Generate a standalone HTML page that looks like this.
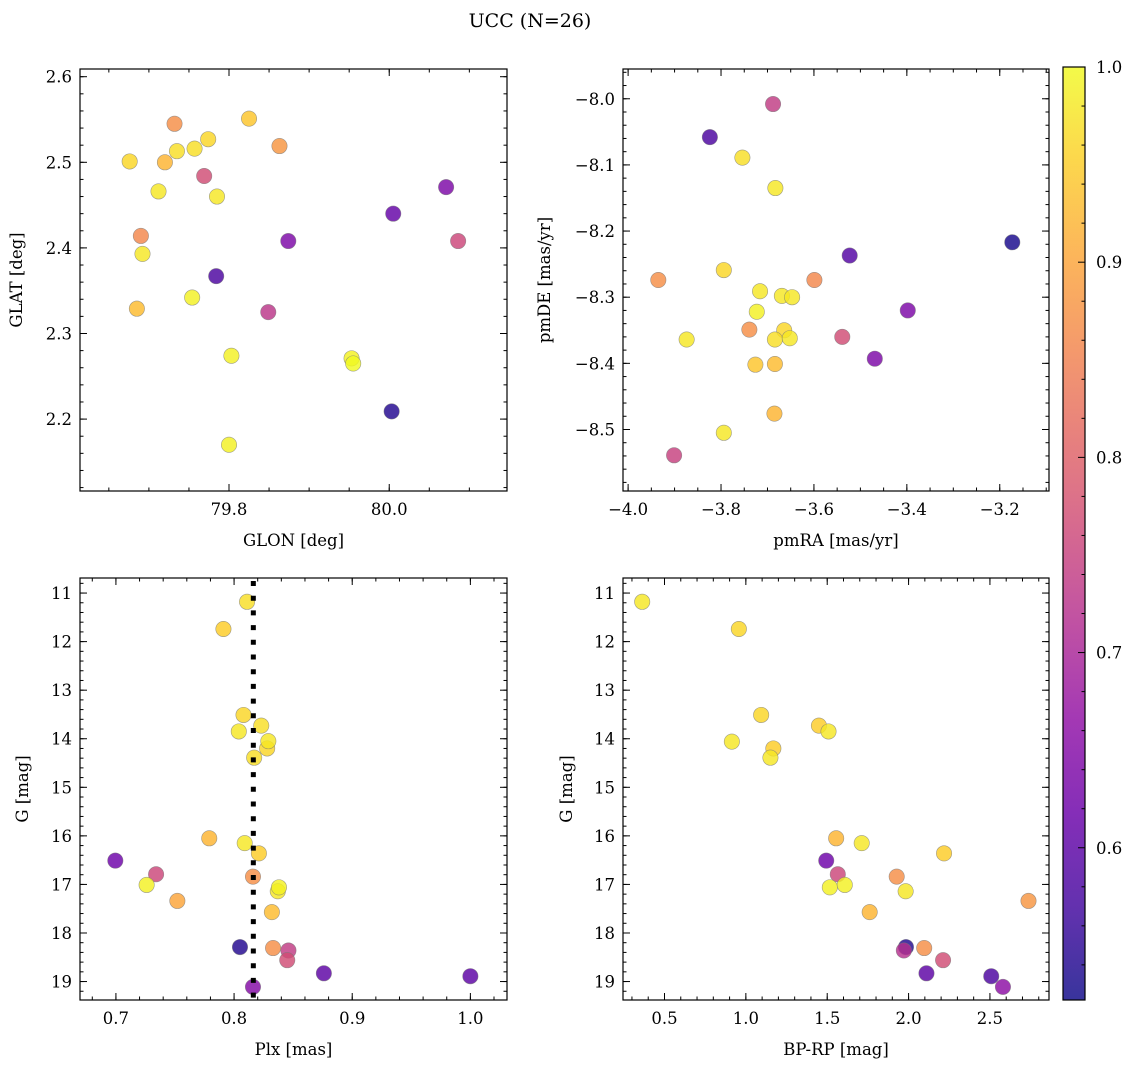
<!DOCTYPE html>
<html><head><meta charset="utf-8"><style>
html,body{margin:0;padding:0;background:#fff}
svg text{font-family:"DejaVu Serif","Liberation Serif",serif;fill:#000}
</style></head><body>
<svg id="fig" width="1136" height="1067" viewBox="0 0 1136 1067" xmlns="http://www.w3.org/2000/svg">
<defs>
<linearGradient id="cbgrad" x1="0" y1="1" x2="0" y2="0"></linearGradient>
</defs>
<text x="530" y="27" font-size="19" text-anchor="middle">UCC (N=26)</text>
</svg>
<script>
// Panel 1: GLON vs GLAT
const glon = [79.676,79.732,79.720,79.735,79.757,79.774,79.825,79.863,79.769,79.712,79.785,79.690,79.692,79.685,79.754,79.784,79.874,80.005,80.071,80.086,79.849,79.803,79.953,79.955,80.003,79.800];
const glat = [2.501,2.545,2.500,2.513,2.516,2.527,2.551,2.519,2.484,2.466,2.460,2.414,2.393,2.329,2.342,2.367,2.408,2.440,2.471,2.408,2.325,2.274,2.271,2.265,2.209,2.170];
const prob1 = [0.96,0.87,0.92,0.97,0.97,0.96,0.94,0.88,0.77,0.98,0.98,0.86,0.98,0.93,0.99,0.58,0.64,0.61,0.64,0.76,0.73,0.99,0.99,1.0,0.54,0.99];
// Panel 2: pmRA vs pmDE
const pmra = [-3.688,-3.824,-3.754,-3.683,-3.173,-3.523,-3.794,-3.935,-3.599,-3.716,-3.669,-3.647,-3.723,-3.398,-3.739,-3.664,-3.684,-3.652,-3.874,-3.539,-3.469,-3.726,-3.684,-3.685,-3.794,-3.901];
const pmde = [-8.008,-8.058,-8.089,-8.135,-8.217,-8.237,-8.259,-8.274,-8.274,-8.291,-8.298,-8.300,-8.322,-8.320,-8.349,-8.350,-8.364,-8.362,-8.364,-8.360,-8.393,-8.402,-8.401,-8.476,-8.505,-8.539];
const prob2 = [0.74,0.58,0.97,0.98,0.53,0.59,0.96,0.87,0.86,0.98,0.98,0.98,0.99,0.64,0.87,0.96,0.97,0.98,0.98,0.77,0.64,0.94,0.93,0.92,0.98,0.75];
// Panel 3: Plx vs G
const plx = [0.811,0.791,0.808,0.823,0.804,0.829,0.828,0.817,0.779,0.809,0.821,0.6995,0.734,0.816,0.726,0.838,0.837,0.752,0.832,0.805,0.833,0.846,0.845,0.876,1.000,0.816];
const gmag3 = [11.18,11.74,13.51,13.73,13.85,14.05,14.20,14.39,16.05,16.15,16.36,16.51,16.79,16.84,17.01,17.06,17.14,17.34,17.57,18.29,18.31,18.36,18.56,18.83,18.89,19.11];
const prob3 = [0.97,0.95,0.96,0.97,0.98,0.98,0.96,0.97,0.92,0.98,0.95,0.62,0.76,0.87,0.99,0.99,0.98,0.90,0.93,0.54,0.87,0.74,0.77,0.60,0.60,0.65];
const plxLine = [0.8163];
// Panel 4: BP-RP vs G
const bprp = [0.363,0.957,1.094,1.449,1.508,0.914,1.169,1.151,1.555,1.712,2.218,1.494,1.565,1.927,1.516,1.608,1.982,2.737,1.761,1.984,2.096,1.971,2.212,2.110,2.508,2.580];
const gmag4 = [11.18,11.74,13.51,13.73,13.85,14.06,14.20,14.39,16.05,16.15,16.36,16.51,16.79,16.84,17.06,17.01,17.14,17.34,17.57,18.29,18.31,18.36,18.56,18.83,18.89,19.11];
const prob4 = [0.98,0.96,0.96,0.95,0.98,0.98,0.95,0.98,0.92,0.98,0.95,0.62,0.76,0.87,0.99,0.99,0.98,0.88,0.92,0.54,0.87,0.72,0.77,0.60,0.58,0.66];
// Tick labels
const ticks1x = [79.8,80.0], ticks1y = [2.2,2.3,2.4,2.5,2.6];
const ticks2x = [-4.0,-3.8,-3.6,-3.4,-3.2], ticks2y = [-8.5,-8.4,-8.3,-8.2,-8.1,-8.0];
const ticks3x = [0.7,0.8,0.9,1.0], ticksGy = [11,12,13,14,15,16,17,18,19];
const ticks4x = [0.5,1.0,1.5,2.0,2.5];
const ticksCb = [0.6,0.7,0.8,0.9,1.0];

const NS="http://www.w3.org/2000/svg";
const svg=document.getElementById('fig');
const VMIN=0.522, VMAX=1.0;
const plasma=[[13,8,135],[65,4,157],[106,0,168],[143,13,164],[177,42,144],[204,71,120],[225,100,98],[242,132,75],[252,166,54],[252,206,37],[240,249,33]];
function cmap(v){let t=(v-VMIN)/(VMAX-VMIN);t=Math.max(0,Math.min(1,t));const f=t*10,i=Math.min(9,Math.floor(f)),r=f-i;const a=plasma[i],b=plasma[i+1];
return 'rgb('+[0,1,2].map(k=>Math.round(a[k]+(b[k]-a[k])*r)).join(',')+')';}
function mk(tag,attrs,parent){const e=document.createElementNS(NS,tag);for(const k in attrs)e.setAttribute(k,attrs[k]);(parent||svg).appendChild(e);return e;}
function fmt(v,d){return (v<0?'\u2212':'')+Math.abs(v).toFixed(d);}
const FS=16.5;

function panel(o){
  const g=mk('g',{});
  
  
  const [L,T,R,B]=o.box;
  const sx=v=>L+(v-o.xr[0])/(o.xr[1]-o.xr[0])*(R-L);
  const sy=o.yinv? v=>T+(v-o.yr[0])/(o.yr[1]-o.yr[0])*(B-T) : v=>B-(v-o.yr[0])/(o.yr[1]-o.yr[0])*(B-T);
  const tg=mk('g',{stroke:'#000','stroke-width':1},g);
  
  
  function xt(step,len){const s=Math.ceil(o.xr[0]/step-1e-6);for(let k=s;k*step<=o.xr[1]+1e-9;k++){const x=sx(k*step);mk('line',{x1:x,x2:x,y1:B,y2:B-len},tg);mk('line',{x1:x,x2:x,y1:T,y2:T+len},tg);}}
  function yt(step,len){const lo=Math.min(...o.yr),hi=Math.max(...o.yr);const s=Math.ceil(lo/step-1e-6);for(let k=s;k*step<=hi+1e-9;k++){const y=sy(k*step);mk('line',{x1:L,x2:L+len,y1:y,y2:y},tg);mk('line',{x1:R,x2:R-len,y1:y,y2:y},tg);}}
  xt(o.xminor,3.5);xt(o.xmajor,7);yt(o.yminor,3.5);yt(o.ymajor,7);
  o.xticks.forEach(v=>{const t=mk('text',{x:sx(v),y:B+24,'font-size':FS,'text-anchor':'middle'},g);t.textContent=fmt(v,o.xd);
    
    });
  o.yticks.forEach(v=>{const t=mk('text',{x:L-8,y:sy(v)+6,'font-size':FS,'text-anchor':'end'},g);t.textContent=fmt(v,o.yd);
    
    });
  const xl=mk('text',{x:(L+R)/2,y:B+55,'font-size':FS,'text-anchor':'middle'},g);xl.textContent=o.xlabel;
  
  
  const yx=o.ylx, yy=(T+B)/2;
  const yl=mk('text',{x:yx,y:yy,'font-size':FS,'text-anchor':'middle',transform:'rotate(-90 '+yx+' '+yy+')'},g);yl.textContent=o.ylabel;
  
  
  const cid='clip-'+o.name;const cp=mk('clipPath',{id:cid},g);mk('rect',{x:L,y:T,width:R-L,height:B-T},cp);
  const pg=mk('g',{'clip-path':'url(#'+cid+')'},g);
  const idx=o.x.map((_,i)=>i).sort((a,b)=>o.p[a]-o.p[b]);
  idx.forEach(i=>{const c=mk('circle',{cx:sx(o.x[i]),cy:sy(o.y[i]),r:7.7,fill:cmap(o.p[i]),'fill-opacity':0.82,stroke:'#777','stroke-opacity':0.7,'stroke-width':0.6},pg);
    
    });
  if(o.vline){o.vline.forEach(v=>{const ln=mk('line',{x1:sx(v),x2:sx(v),y1:T,y2:B,stroke:'#000','stroke-width':5,'stroke-dasharray':'5 9.7','stroke-dashoffset':-3},pg);
    
    });}
  const fr=mk('rect',{x:L,y:T,width:R-L,height:B-T,fill:'none',stroke:'#000','stroke-width':1.2},g);
  
  
}
panel({name:'glon-glat-panel',box:[80,69,507,491],xr:[79.614,80.147],yr:[2.116,2.609],x:glon,y:glat,p:prob1,xticks:ticks1x,yticks:ticks1y,xd:1,yd:1,xmajor:0.2,xminor:0.05,ymajor:0.1,yminor:0.02,xlabel:'GLON [deg]',ylabel:'GLAT [deg]',ylx:22});
panel({name:'pm-panel',box:[623,69,1049,491],xr:[-4.011,-3.094],yr:[-8.593,-7.955],x:pmra,y:pmde,p:prob2,xticks:ticks2x,yticks:ticks2y,xd:1,yd:1,xmajor:0.2,xminor:0.05,ymajor:0.1,yminor:0.02,xlabel:'pmRA [mas/yr]',ylabel:'pmDE [mas/yr]',ylx:550});
panel({name:'plx-g-panel',box:[80,578,507,1000],xr:[0.6696,1.031],yr:[10.69,19.38],yinv:true,x:plx,y:gmag3,p:prob3,xticks:ticks3x,yticks:ticksGy,xd:1,yd:0,xmajor:0.1,xminor:0.02,ymajor:1,yminor:0.2,xlabel:'Plx [mas]',ylabel:'G [mag]',ylx:28,vline:plxLine});
panel({name:'cmd-panel',box:[623,578,1049,1000],xr:[0.245,2.863],yr:[10.69,19.38],yinv:true,x:bprp,y:gmag4,p:prob4,xticks:ticks4x,yticks:ticksGy,xd:1,yd:0,xmajor:0.5,xminor:0.1,ymajor:1,yminor:0.2,xlabel:'BP-RP [mag]',ylabel:'G [mag]',ylx:572});

const grad=document.getElementById('cbgrad');
for(let k=0;k<=20;k++){const v=VMIN+(VMAX-VMIN)*k/20;mk('stop',{offset:(k/20),'stop-color':cmap(v),'stop-opacity':0.82},grad);}
const CL=1063,CR=1085,CT=67,CB=1000;
const cy=v=>CB-(v-VMIN)/(VMAX-VMIN)*(CB-CT);
const cb=mk('rect',{x:CL,y:CT,width:CR-CL,height:CB-CT,fill:'url(#cbgrad)',stroke:'#000','stroke-width':1.2});


for(let k=Math.ceil(VMIN/0.02);k*0.02<=VMAX+1e-9;k++){const y=cy(k*0.02);const major=Math.abs(k*0.02*10-Math.round(k*0.02*10))<1e-6;
  mk('line',{x1:CR,x2:CR-(major?7:3.5),y1:y,y2:y,stroke:'#000','stroke-width':1});}
ticksCb.forEach(v=>{const t=mk('text',{x:CR+11,y:cy(v)+6,'font-size':FS});t.textContent=v.toFixed(1);
  
  });
</script>
</body></html>
